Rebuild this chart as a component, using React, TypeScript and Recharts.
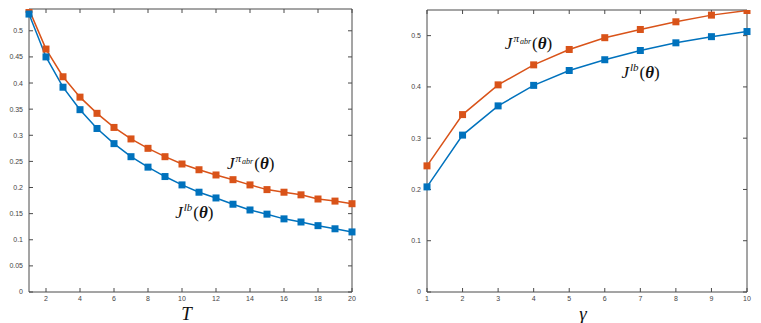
import React from 'react'
import { LineChart, Line, XAxis, YAxis, ReferenceDot } from 'recharts'

// left panel: bound vs horizon T
const horizonT = [1, 2, 3, 4, 5, 6, 7, 8, 9, 10, 11, 12, 13, 14, 15, 16, 17, 18, 19, 20]
const horizonAbr = [0.541, 0.465, 0.412, 0.373, 0.342, 0.315, 0.293, 0.275, 0.259, 0.245, 0.234, 0.224, 0.215, 0.205, 0.196, 0.191, 0.186, 0.178, 0.174, 0.169]
const horizonLb = [0.532, 0.45, 0.392, 0.349, 0.313, 0.284, 0.259, 0.239, 0.221, 0.205, 0.191, 0.18, 0.168, 0.157, 0.149, 0.14, 0.134, 0.127, 0.121, 0.115]
const horizonXTicks = [2, 4, 6, 8, 10, 12, 14, 16, 18, 20]
const horizonYTicks = [0, 0.05, 0.1, 0.15, 0.2, 0.25, 0.3, 0.35, 0.4, 0.45, 0.5]

// right panel: bound vs gamma
const gammaVals = [1, 2, 3, 4, 5, 6, 7, 8, 9, 10]
const gammaAbr = [0.246, 0.346, 0.404, 0.443, 0.473, 0.496, 0.512, 0.527, 0.54, 0.549]
const gammaLb = [0.205, 0.306, 0.363, 0.403, 0.432, 0.453, 0.471, 0.486, 0.498, 0.508]
const gammaXTicks = [1, 2, 3, 4, 5, 6, 7, 8, 9, 10]
const gammaYTicks = [0, 0.1, 0.2, 0.3, 0.4, 0.5]

const BLUE = '#0072BD'
const ORANGE = '#D95319'
const AXIS = '#4a4a4a'
const tickFont = { fontSize: 7, fill: '#444', fontFamily: '"Liberation Sans", Arial, sans-serif' }

const leftData = horizonT.map((t, i) => ({ x: t, abr: horizonAbr[i], lb: horizonLb[i] }))
const rightData = gammaVals.map((g, i) => ({ x: g, abr: gammaAbr[i], lb: gammaLb[i] }))

function Square(props: any) {
  const { cx, cy, fill } = props
  if (cx == null || cy == null) return <g />
  return <rect x={cx - 3.5} y={cy - 3.5} width={7} height={7} fill={fill} />
}

function MathLabel({ viewBox, sup, sub }: { viewBox?: any; sup: string; sub?: string }) {
  const x = viewBox?.x ?? 0
  const y = viewBox?.y ?? 0
  return (
    <text x={x} y={y + 6} fontFamily='"Liberation Serif", "DejaVu Serif", serif' fontSize={17} fill="#111">
      <tspan fontStyle="italic">J</tspan>
      <tspan fontStyle="italic" fontSize={11} dy={-7} dx={1}>{sup}</tspan>
      {sub ? <tspan fontStyle="italic" fontSize={8} dy={2} dx={1}>{sub}</tspan> : null}
      <tspan dy={sub ? 5 : 7} dx={1}>(</tspan>
      <tspan fontStyle="italic" fontWeight="bold">θ</tspan>
      <tspan>)</tspan>
    </text>
  )
}

const noTick = () => <g />

interface PanelProps {
  data: { x: number; abr: number; lb: number }[]
  width: number
  margin: { top: number; right: number; left: number; bottom: number }
  yWidth: number
  xDomain: [number, number]
  yDomain: [number, number]
  xTicks: number[]
  yTicks: number[]
  xTitle: string
  titleDx: number
  labels: { x: number; y: number; sup: string; sub?: string }[]
}

function Panel({ data, width, margin, yWidth, xDomain, yDomain, xTicks, yTicks, xTitle, titleDx, labels }: PanelProps) {
  return (
    <LineChart width={width} height={323} data={data} margin={margin}>
      <XAxis
        dataKey="x"
        type="number"
        domain={xDomain}
        ticks={xTicks}
        height={31}
        tick={tickFont}
        tickSize={-4}
        tickMargin={8}
        stroke={AXIS}
        label={{
          value: xTitle,
          position: 'insideBottom',
          offset: 3,
          dx: titleDx,
          style: { fontSize: 19, fontStyle: 'italic', fontFamily: '"Liberation Serif", serif', fill: '#111' },
        }}
      />
      <XAxis xAxisId="top" dataKey="x" orientation="top" type="number" domain={xDomain} ticks={xTicks} height={1} tick={noTick} tickSize={-4} stroke={AXIS} />
      <YAxis
        type="number"
        domain={yDomain}
        ticks={yTicks}
        width={yWidth}
        tick={tickFont}
        tickSize={-4}
        tickMargin={10}
        stroke={AXIS}
        allowDataOverflow
      />
      <YAxis yAxisId="right" orientation="right" type="number" domain={yDomain} ticks={yTicks} width={1} tick={noTick} tickSize={-4} stroke={AXIS} allowDataOverflow />
      {/* invisible series so the mirrored box axes get drawn */}
      <Line xAxisId="top" yAxisId="right" dataKey="lb" stroke="none" dot={false} activeDot={false} isAnimationActive={false} />
      <Line dataKey="abr" stroke={ORANGE} strokeWidth={1.5} dot={<Square fill={ORANGE} />} isAnimationActive={false} />
      <Line dataKey="lb" stroke={BLUE} strokeWidth={1.5} dot={<Square fill={BLUE} />} isAnimationActive={false} />
      {labels.map((l, i) => (
        <ReferenceDot
          key={i}
          x={l.x}
          y={l.y}
          r={0}
          fill="none"
          stroke="none"
          label={(p: any) => <MathLabel viewBox={p.viewBox} sup={l.sup} sub={l.sub} />}
        />
      ))}
    </LineChart>
  )
}

export default function App() {
  return (
    <div style={{ position: 'absolute', left: 0, top: 0, width: 761, height: 323, background: '#fff' }}>
      <div style={{ position: 'absolute', left: 0, top: 0 }}>
        <Panel
          data={leftData}
          width={370}
          margin={{ top: 8, right: 17, left: 0, bottom: 0 }}
          yWidth={29}
          xDomain={[1, 20]}
          yDomain={[0, 0.5417]}
          xTicks={horizonXTicks}
          yTicks={horizonYTicks}
          xTitle="T"
          titleDx={-4}
          labels={[
            { x: 12.65, y: 0.247, sup: 'π', sub: 'abr' },
            { x: 9.6, y: 0.1535, sup: 'lb' },
          ]}
        />
      </div>
      <div style={{ position: 'absolute', left: 390, top: 0 }}>
        <Panel
          data={rightData}
          width={371}
          margin={{ top: 9, right: 13, left: 0, bottom: 0 }}
          yWidth={37}
          xDomain={[1, 10]}
          yDomain={[0, 0.55]}
          xTicks={gammaXTicks}
          yTicks={gammaYTicks}
          xTitle="γ"
          titleDx={-4}
          labels={[
            { x: 3.19, y: 0.486, sup: 'π', sub: 'abr' },
            { x: 6.47, y: 0.43, sup: 'lb' },
          ]}
        />
      </div>
    </div>
  )
}
